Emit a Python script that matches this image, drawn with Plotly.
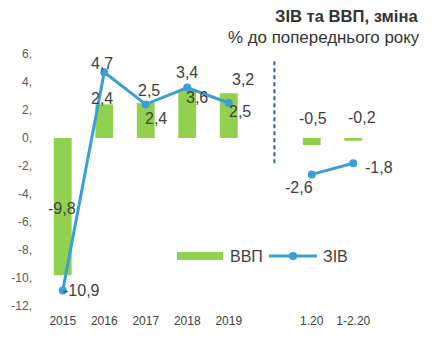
import plotly.graph_objects as go

# Categories (an empty slot separates the yearly data from the 2020 months)
categories = ["2015", "2016", "2017", "2018", "2019", "", "1.20", "1-2.20"]
gdp = [-9.8, 2.4, 2.5, 3.4, 3.2, None, -0.5, -0.2]        # ВВП
ziv = [-10.9, 4.7, 2.4, 3.6, 2.5, None, -2.6, -1.8]       # ЗІВ
y_ticks = [-12, -10, -8, -6, -4, -2, 0, 2, 4, 6]

# Pixel offsets of each value label from its mark (xshift, yshift)
gdp_label_offsets = [(-1, 67), (-2, 6), (3, 13), (0, 18), (14, 14), None, (1, 27), (9, 23)]
ziv_label_offsets = [(19, 0), (-2, 9), (10, -14), (10, -10), (11, -8), None, (-13, -13), (26, -4)]

GREEN = "#92D050"
BLUE = "#3A9FD6"
DASH = "#2B5FB0"
TEXT = "#404040"
FONT = "Liberation Sans, Arial, sans-serif"

W, H = 436, 343
ML, MR, MT, MB = 42, 62, 54, 37
PW, PH = W - ML - MR, H - MT - MB

x = list(range(len(categories)))


def px(xp):
    return (xp - ML) / PW


def py(yp):
    return (H - MB - yp) / PH


def fmt(v):
    return f"{v:.1f}".replace(".", ",")


fig = go.Figure()
fig.add_trace(go.Bar(x=x, y=gdp, width=0.43, marker=dict(color=GREEN, line=dict(width=0)),
                     name="ВВП", showlegend=False))
fig.add_trace(go.Scatter(x=x, y=ziv, mode="lines+markers", connectgaps=False,
                         line=dict(color=BLUE, width=3), marker=dict(color=BLUE, size=8),
                         name="ЗІВ", showlegend=False))

annotations = []
for xi, vals, offs in ((x, gdp, gdp_label_offsets), (x, ziv, ziv_label_offsets)):
    for i, v in enumerate(vals):
        if v is None:
            continue
        dx, dy = offs[i]
        annotations.append(dict(x=xi[i], y=v, xref="x", yref="y", text=fmt(v), showarrow=False,
                                xshift=dx, yshift=dy, xanchor="center", yanchor="middle",
                                font=dict(family=FONT, size=16, color=TEXT)))

# Title block
annotations.append(dict(x=px(420), y=py(16), xref="paper", yref="paper", text="<b>ЗІВ та ВВП, зміна</b>",
                        showarrow=False, xanchor="right", yanchor="middle",
                        font=dict(family=FONT, size=16.6, color="#333333")))
annotations.append(dict(x=px(422), y=py(37), xref="paper", yref="paper", text="% до попереднього року",
                        showarrow=False, xanchor="right", yanchor="middle",
                        font=dict(family=FONT, size=16.9, color="#333333")))

# Legend entries
annotations.append(dict(x=px(228), y=py(256), xref="paper", yref="paper", text="ВВП", showarrow=False,
                        xanchor="left", yanchor="middle", font=dict(family=FONT, size=16, color=TEXT)))
annotations.append(dict(x=px(321), y=py(256), xref="paper", yref="paper", text="ЗІВ", showarrow=False,
                        xanchor="left", yanchor="middle", font=dict(family=FONT, size=16, color=TEXT)))

shapes = [
    # separator between yearly and monthly data
    dict(type="line", xref="x", yref="y", x0=5.1, x1=5.1, y0=-1.8, y1=5.6,
         line=dict(color=DASH, width=2, dash="4px,3px")),
    # legend swatches
    dict(type="rect", xref="paper", yref="paper", x0=px(177), x1=px(223), y0=py(260), y1=py(252),
         fillcolor=GREEN, line=dict(width=0)),
    dict(type="line", xref="paper", yref="paper", x0=px(269), x1=px(317), y0=py(256), y1=py(256),
         line=dict(color=BLUE, width=3)),
    dict(type="circle", xref="paper", yref="paper", x0=px(289), x1=px(297), y0=py(260), y1=py(252),
         fillcolor=BLUE, line=dict(width=0)),
]

fig.update_layout(
    width=W, height=H,
    margin=dict(l=ML, r=MR, t=MT, b=MB),
    paper_bgcolor="white", plot_bgcolor="white",
    showlegend=False,
    annotations=annotations,
    shapes=shapes,
    font=dict(family=FONT, color="#595959"),
    xaxis=dict(range=[-0.5, 7.5], tickvals=[i for i, c in enumerate(categories) if c],
               ticktext=[c for c in categories if c], showgrid=False, zeroline=False,
               showline=False, ticks="", tickfont=dict(size=12, color="#404040"),
               ticklabelstandoff=6),
    yaxis=dict(range=[-12, 6], tickvals=y_ticks, ticktext=[f"{v}," for v in y_ticks],
               showgrid=False, zeroline=False, showline=False, ticks="",
               tickfont=dict(size=12, color="#595959"), ticklabelstandoff=9),
)

fig.write_html("out.html")
